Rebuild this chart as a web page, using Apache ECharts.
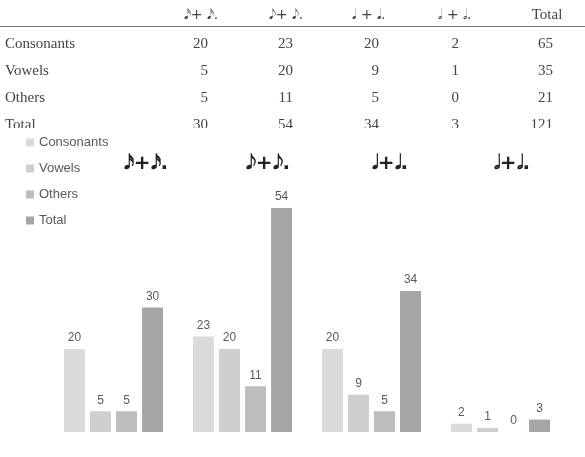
<!DOCTYPE html>
<html><head><meta charset="utf-8">
<script src="https://cdn.jsdelivr.net/npm/echarts@6/dist/echarts.min.js"></script>
<style>
html,body{margin:0;padding:0;background:#fff;}
#wrap{position:relative;width:585px;height:457px;overflow:hidden;}
#chart{position:absolute;left:0;top:0;width:585px;height:457px;}
#table{position:absolute;left:0;top:0;width:585px;height:128px;overflow:hidden;font-family:'Liberation Serif',serif;font-size:15px;color:#444;}
.cell{position:absolute;white-space:nowrap;line-height:20px;height:20px;}
.note{font-family:'DejaVu Sans',sans-serif;font-size:14px;}
.rule{position:absolute;left:0;width:585px;top:26px;height:1px;background:#777;}
</style></head><body>
<div id="wrap"><div id="chart"></div><div id="table"></div></div>
<script>
// ---- data ----
const S16 = '\u{1D161}', S8 = '\u{1D160}', S4 = '\u{1D15F}', S2 = '\u{1D15E}';
const categories = [S16 + '+' + S16 + '.', S8 + '+' + S8 + '.', S4 + '+' + S4 + '.', S2 + '+' + S2 + '.'];
const tableHeaders = [S16 + '+ ' + S16 + '.', S8 + '+ ' + S8 + '.', S4 + ' + ' + S4 + '.', S2 + ' + ' + S2 + '.', 'Total'];
const seriesNames = ['Consonants', 'Vowels', 'Others', 'Total'];
const consonants = [20, 23, 20, 2];
const vowels = [5, 20, 9, 1];
const others = [5, 11, 5, 0];
const totals = [30, 54, 34, 3];
const rowTotals = [65, 35, 21, 121];

// ---- table layout ----
const headerCenters = [201, 286, 369, 455, 547];
const valueRights = [208, 293, 379, 459, 553];
const headerY = 14;
const rowYs = [43, 70, 97, 124];
const tbl = document.getElementById('table');
function addCell(text, cls, style) {
  const d = document.createElement('div');
  d.className = 'cell' + (cls ? ' ' + cls : '');
  d.textContent = text;
  Object.assign(d.style, style);
  tbl.appendChild(d);
  return d;
}
tableHeaders.forEach((h, i) => {
  const d = addCell(h, i < 4 ? 'note' : '', {top: (headerY - 10) + 'px', left: '0px'});
  const w = d.getBoundingClientRect().width;
  d.style.left = (headerCenters[i] - w / 2) + 'px';
});
const rule = document.createElement('div'); rule.className = 'rule'; tbl.appendChild(rule);
const seriesValues = [consonants, vowels, others, totals];
seriesNames.forEach((name, r) => {
  const top = (rowYs[r] - 10) + 'px';
  addCell(name, '', {top: top, left: '5px'});
  const vals = seriesValues[r].concat([rowTotals[r]]);
  vals.forEach((v, c) => {
    const d = addCell(String(v), '', {top: top, left: '0px'});
    const w = d.getBoundingClientRect().width;
    d.style.left = (valueRights[c] - w) + 'px';
  });
});

// ---- chart ----
const colors = ['#dadada', '#cfcfcf', '#bdbdbd', '#a6a6a6'];
const chart = echarts.init(document.getElementById('chart'));
const labelStyle = {show: true, position: 'top', distance: 5, color: '#595959', fontSize: 12, fontFamily: 'Liberation Sans'};
chart.setOption({
  animation: false,
  color: colors,
  legend: {
    orient: 'vertical', left: 26, top: 135, padding: 0, itemWidth: 8, itemHeight: 8, itemGap: 11, icon: 'rect',
    textStyle: {fontFamily: 'Liberation Sans', fontSize: 13, color: '#595959', lineHeight: 15},
    data: seriesNames
  },
  grid: [
    {left: 49, right: 20, top: 183, bottom: 25},
    {left: 85, right: 12, top: 183, bottom: 25}
  ],
  xAxis: [
    {type: 'category', gridIndex: 0, data: categories, axisLine: {show: false}, axisTick: {show: false}, axisLabel: {show: false}},
    {type: 'category', gridIndex: 1, data: categories, position: 'top', axisLine: {show: false}, axisTick: {show: false},
     axisLabel: {margin: 9, fontSize: 20, fontFamily: 'DejaVu Sans', color: '#222', fontWeight: 'bold'}}
  ],
  yAxis: [
    {type: 'value', gridIndex: 0, min: 0, max: 60, show: false},
    {type: 'value', gridIndex: 1, min: 0, max: 1, show: false}
  ],
  series: seriesNames.map((name, i) => ({
    name: name, type: 'bar', xAxisIndex: 0, yAxisIndex: 0,
    barWidth: 21, barGap: '24%',
    data: seriesValues[i],
    label: labelStyle
  }))
});
</script>
</body></html>
